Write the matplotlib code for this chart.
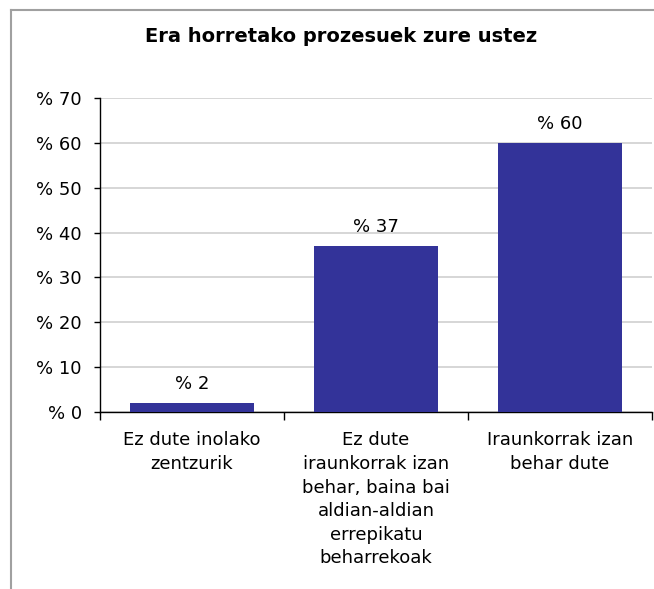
import matplotlib
matplotlib.use("Agg")
import matplotlib.pyplot as plt
from matplotlib.lines import Line2D
from matplotlib.ticker import FixedLocator

# survey answers
categories = [
    "Ez dute inolako\nzentzurik",
    "Ez dute\niraunkorrak izan\nbehar, baina bai\naldian-aldian\nerrepikatu\nbeharrekoak",
    "Iraunkorrak izan\nbehar dute",
]
values = [2, 37, 60]
yticks = [0, 10, 20, 30, 40, 50, 60, 70]
title = "Era horretako prozesuek zure ustez"

plt.rcParams["font.family"] = "DejaVu Sans"

fig = plt.figure(figsize=(6.54, 5.89), dpi=100)
ax = fig.add_axes([0.1529, 0.3005, 0.8441, 0.5331])

x = range(len(values))
ax.bar(x, values, width=0.674, color="#333399", zorder=3)
for xi, v in zip(x, values):
    ax.text(xi, v + 2.3, f"% {v}", ha="center", va="bottom", fontsize=13)

ax.set_xlim(-0.5, len(values) - 0.5)
ax.set_ylim(0, 70)
ax.set_yticks(yticks)
ax.set_yticklabels([f"% {t}" for t in yticks], fontsize=13)
ax.yaxis.grid(True, color="#d0d0d0", linewidth=1.2, zorder=0)

ax.set_xticks(list(x))
ax.set_xticklabels(categories, fontsize=13, linespacing=1.4, va="top")
ax.tick_params(axis="x", length=0, pad=14)
ax.xaxis.set_minor_locator(FixedLocator([-0.5, 0.5, 1.5, 2.5]))
ax.tick_params(axis="x", which="minor", length=6, color="black", width=1)
ax.tick_params(axis="y", length=4, width=1, pad=9)

for side in ("top", "right"):
    ax.spines[side].set_visible(False)
for side in ("left", "bottom"):
    ax.spines[side].set_color("black")
    ax.spines[side].set_linewidth(1)

fig.text(0.521, 0.938, title, ha="center", va="center", fontsize=14, fontweight="bold")

# outer chart frame
fig.add_artist(Line2D([0.017, 0.017], [0, 0.983], color="#a0a0a0", linewidth=1.5, transform=fig.transFigure))
fig.add_artist(Line2D([0.017, 1], [0.983, 0.983], color="#a0a0a0", linewidth=1.5, transform=fig.transFigure))

fig.savefig("out.png", dpi=100)
